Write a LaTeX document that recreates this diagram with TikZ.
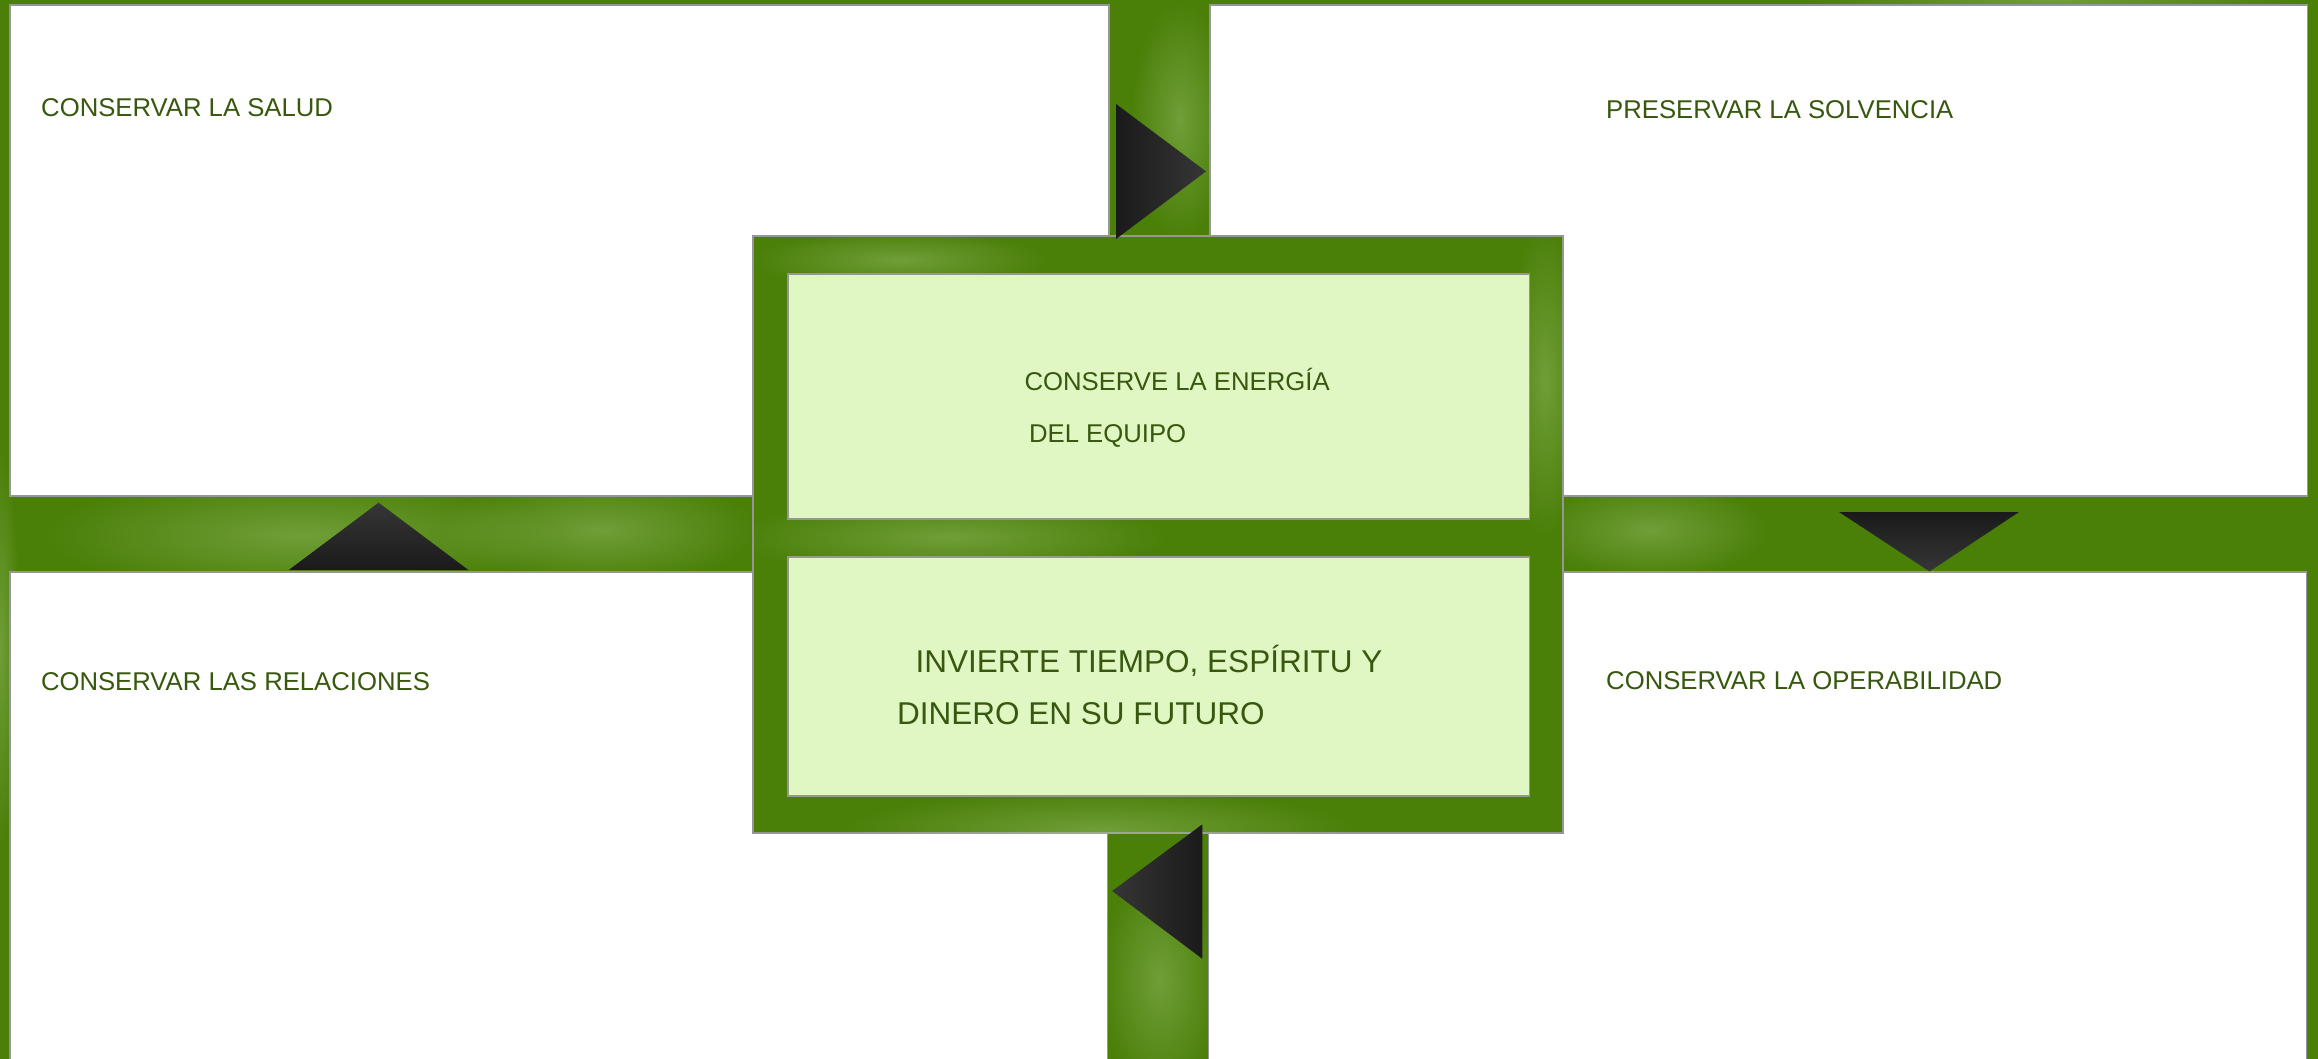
\documentclass[tikz,border=0pt]{standalone}
\usepackage{fontspec}
\setmainfont{Liberation Sans}
\usetikzlibrary{fadings}
\tikzfading[name=softglow, inner color=transparent!0, outer color=transparent!100]
\definecolor{bggreen}{RGB}{74,127,8}
\definecolor{lightpatch}{RGB}{170,205,130}
\definecolor{innerfill}{RGB}{224,247,196}
\definecolor{edgegray}{RGB}{150,150,150}
\definecolor{labelgreen}{RGB}{55,88,14}
\definecolor{tridark}{RGB}{26,26,26}
\definecolor{trilight}{RGB}{54,54,54}
\tikzset{
  whitebox/.style={draw=edgegray, line width=1.5pt, fill=white, inner sep=0pt},
  panelbox/.style={draw=edgegray, line width=1.2pt, fill=bggreen, inner sep=0pt},
  innerbox/.style={draw=edgegray, line width=1.5pt, fill=innerfill, inner sep=0pt},
  lbl/.style={anchor=base west, inner sep=0pt, text=labelgreen, font=\fontsize{25.7}{30}\selectfont},
  biglbl/.style={lbl, font=\fontsize{31.5}{38}\selectfont},
  glow/.style={fill=lightpatch, path fading=softglow, opacity=0.4},
  arrowtri/.style={draw=none},
}
\begin{document}
\begin{tikzpicture}[x=1pt,y=-1pt]
\useasboundingbox (0,0) rectangle (2318,1059);
\fill[bggreen] (0,0) rectangle (2318,1059);
% background texture
\fill[glow] (300,535) ellipse [x radius=260pt, y radius=60pt];
\fill[glow] (600,530) ellipse [x radius=160pt, y radius=55pt];
\fill[glow] (1180,120) ellipse [x radius=50pt, y radius=120pt];
\fill[glow] (1650,530) ellipse [x radius=120pt, y radius=50pt];
\fill[glow] (1160,980) ellipse [x radius=60pt, y radius=120pt];
\fill[glow] (2050,0) ellipse [x radius=250pt, y radius=20pt];
\fill[glow] (0,650) ellipse [x radius=20pt, y radius=200pt];

% outer boxes
\node[whitebox, minimum width=1099pt, minimum height=491pt] (salud) at (559.5,250.5) {};
\node[whitebox, minimum width=1097.5pt, minimum height=491pt] (solvencia) at (1758.75,250.5) {};
\node[whitebox, minimum width=1097.5pt, minimum height=498pt] (relaciones) at (558.75,821) {};
\node[whitebox, minimum width=1098pt, minimum height=498pt] (operabilidad) at (1757.5,821) {};

% central panel
\node[panelbox, minimum width=810pt, minimum height=597pt] (panel) at (1158,534.5) {};
\begin{scope}
  \clip (753,236) rectangle (1563,833);
  \fill[glow] (950,537) ellipse [x radius=220pt, y radius=40pt];
  \fill[glow] (1545,380) ellipse [x radius=40pt, y radius=160pt];
  \fill[glow] (1100,830) ellipse [x radius=260pt, y radius=40pt];
  \fill[glow] (900,260) ellipse [x radius=150pt, y radius=30pt];
\end{scope}
\node[innerbox, minimum width=741.5pt, minimum height=245pt] (energia) at (1158.75,396.5) {};
\node[innerbox, minimum width=741.5pt, minimum height=239pt] (invierte) at (1158.75,676.5) {};

% arrow triangles
\coordinate (t1a) at (1116,104); \coordinate (t1b) at (1116,239); \coordinate (t1c) at (1206,171.4);
\shade[arrowtri, left color=tridark, right color=trilight] (t1a) -- (t1b) -- (t1c) -- cycle;
\coordinate (t2a) at (1839,512); \coordinate (t2b) at (2019,512); \coordinate (t2c) at (1929.5,571.4);
\shade[arrowtri, top color=tridark, bottom color=trilight] (t2a) -- (t2b) -- (t2c) -- cycle;
\coordinate (t3a) at (1202.3,824.4); \coordinate (t3b) at (1202.3,958.8); \coordinate (t3c) at (1112.2,891);
\shade[arrowtri, left color=trilight, right color=tridark] (t3a) -- (t3b) -- (t3c) -- cycle;
\coordinate (t4a) at (288.8,570); \coordinate (t4b) at (468.4,570); \coordinate (t4c) at (378.6,502.7);
\shade[arrowtri, top color=trilight, bottom color=tridark] (t4a) -- (t4b) -- (t4c) -- cycle;

% labels
\node[lbl] (lsalud) at (41,116.7) {CONSERVAR LA SALUD};
\node[lbl] (lsolv) at (1606,118.4) {PRESERVAR LA SOLVENCIA};
\node[lbl] (lrel) at (40.8,690) {CONSERVAR LAS RELACIONES};
\node[lbl] (loper) at (1606,689.8) {CONSERVAR LA OPERABILIDAD};
\node[lbl] (lener1) at (1024.3,390) {CONSERVE LA ENERGÍA};
\node[lbl] (lener2) at (1028.9,442) {DEL EQUIPO};
\node[biglbl] (linv1) at (915.3,672.9) {INVIERTE TIEMPO, ESPÍRITU Y};
\node[biglbl] (linv2) at (896.9,724.6) {DINERO EN SU FUTURO};
\end{tikzpicture}
\end{document}
